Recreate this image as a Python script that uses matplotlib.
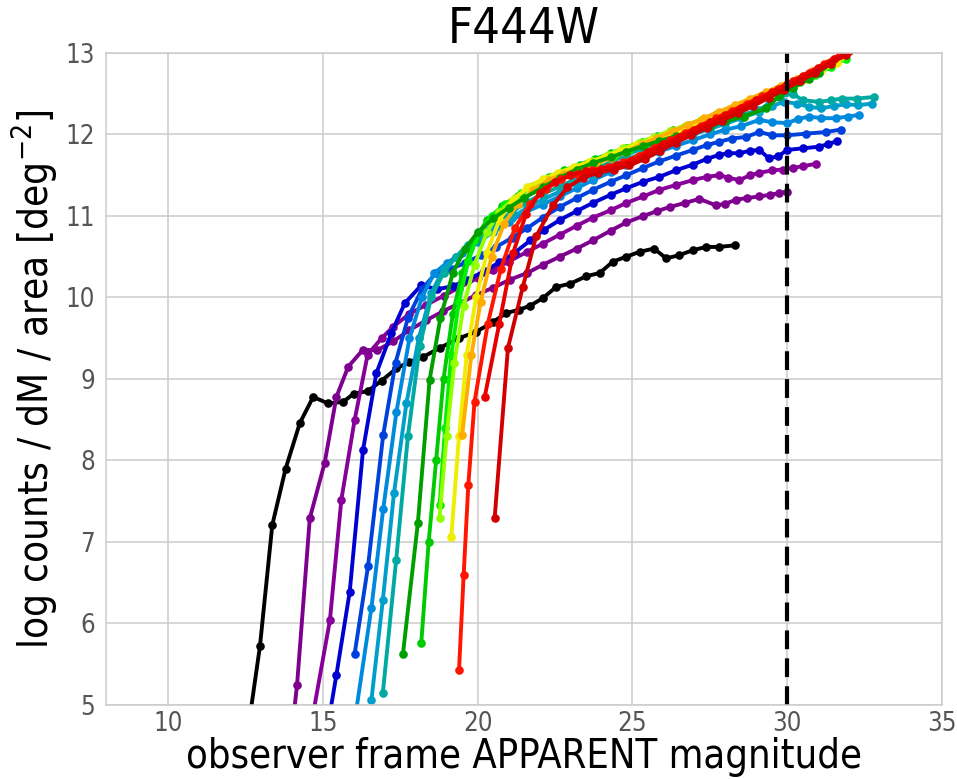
import matplotlib
matplotlib.use("Agg")
import matplotlib.pyplot as plt
from matplotlib import font_manager as fm

# ---------------- data ----------------
black_x = [12.55, 12.97, 13.37, 13.8, 14.26, 14.69, 15.17, 15.66, 16.0, 16.45, 16.9, 17.38, 17.8, 18.24, 18.77, 19.4, 19.96, 20.5, 20.93, 21.35, 21.7, 22.1, 22.54, 23.0, 23.5, 23.94, 24.37, 24.8, 25.23, 25.7, 26.09, 26.52, 26.95, 27.38, 27.8, 28.3]
black_y = [4.6, 5.72, 7.21, 7.9, 8.46, 8.78, 8.70, 8.72, 8.82, 8.85, 8.98, 9.13, 9.21, 9.27, 9.38, 9.5, 9.58, 9.70, 9.81, 9.85, 9.9, 9.99, 10.13, 10.17, 10.26, 10.30, 10.44, 10.5, 10.56, 10.6, 10.48, 10.52, 10.58, 10.62, 10.62, 10.64]

purpleA_x = [13.98, 14.17, 14.58, 15.06, 15.44, 15.82, 16.3, 16.74, 17.27, 17.8, 18.34, 18.88, 19.42, 19.95, 20.5, 21.05, 21.6, 22.1, 22.65, 23.2, 23.72, 24.3, 24.8, 25.35, 25.8, 26.2, 26.7, 27.16, 27.7, 28.0, 28.35, 28.7, 29.1, 29.45, 29.74, 30.0]
purpleA_y = [4.6, 5.25, 7.29, 7.97, 8.78, 9.15, 9.36, 9.35, 9.46, 9.6, 9.72, 9.83, 9.93, 10.03, 10.12, 10.22, 10.3, 10.4, 10.5, 10.6, 10.7, 10.82, 10.92, 11.0, 11.06, 11.11, 11.16, 11.21, 11.13, 11.15, 11.2, 11.22, 11.24, 11.26, 11.28, 11.3]

purpleB_x = [14.55, 15.23, 15.6, 16.03, 16.45, 16.9, 17.27, 17.8, 18.34, 18.9, 19.4, 20.0, 20.5, 21.0, 21.6, 22.1, 22.65, 23.2, 23.72, 24.3, 24.8, 25.35, 25.87, 26.4, 26.95, 27.4, 27.8, 28.1, 28.45, 28.8, 29.1, 29.52, 29.85, 30.17, 30.5, 30.92]
purpleB_y = [4.6, 6.04, 7.52, 8.5, 9.3, 9.5, 9.64, 9.8, 9.91, 10.02, 10.12, 10.24, 10.34, 10.44, 10.56, 10.66, 10.77, 10.88, 10.98, 11.07, 11.16, 11.24, 11.32, 11.38, 11.44, 11.48, 11.5, 11.47, 11.44, 11.5, 11.53, 11.56, 11.57, 11.59, 11.61, 11.64]

dblue_x = [15.1, 15.44, 15.87, 16.3, 16.73, 17.21, 17.65, 18.18, 18.7, 19.2, 19.7, 20.2, 20.7, 21.2, 21.7, 22.15, 22.65, 23.2, 23.72, 24.3, 24.8, 25.35, 25.87, 26.4, 26.95, 27.4, 27.8, 28.1, 28.45, 28.8, 29.1, 29.4, 29.7, 30.0, 30.5, 31.03, 31.3, 31.62]
dblue_y = [4.6, 5.37, 6.39, 8.13, 9.07, 9.56, 9.93, 10.15, 10.1, 10.14, 10.22, 10.32, 10.43, 10.55, 10.7, 10.83, 10.95, 11.06, 11.16, 11.26, 11.34, 11.42, 11.48, 11.56, 11.63, 11.7, 11.75, 11.77, 11.77, 11.8, 11.81, 11.71, 11.73, 11.81, 11.83, 11.85, 11.88, 11.92]

blue_x = [16.03, 16.46, 16.95, 17.35, 17.75, 18.2, 18.65, 19.1, 19.6, 20.1, 20.6, 21.1, 21.6, 22.1, 22.65, 23.2, 23.72, 24.3, 24.8, 25.35, 25.87, 26.4, 26.95, 27.4, 27.8, 28.2, 28.67, 29.1, 29.52, 30.0, 30.6, 31.25, 31.73]
blue_y = [5.63, 6.7, 8.31, 9.2, 9.75, 10.1, 10.3, 10.35, 10.42, 10.52, 10.62, 10.73, 10.85, 10.98, 11.11, 11.22, 11.32, 11.42, 11.5, 11.59, 11.67, 11.74, 11.81, 11.87, 11.91, 11.95, 11.97, 12.03, 11.99, 11.99, 12.01, 12.03, 12.06]

lblue_x = [15.95, 16.57, 16.95, 17.38, 17.8, 18.2, 18.6, 19.0, 19.5, 20.0, 20.5, 21.0, 21.5, 22.1, 22.65, 23.2, 23.72, 24.3, 24.8, 25.35, 25.87, 26.4, 26.95, 27.5, 28.0, 28.5, 29.1, 29.5, 30.0, 30.35, 30.7, 31.1, 31.57, 31.95, 32.32]
lblue_y = [4.6, 6.19, 7.4, 8.6, 9.5, 10.0, 10.3, 10.42, 10.55, 10.68, 10.8, 10.92, 11.04, 11.14, 11.24, 11.34, 11.44, 11.54, 11.63, 11.71, 11.79, 11.86, 11.93, 12.0, 12.06, 12.1, 12.18, 12.15, 12.14, 12.19, 12.22, 12.2, 12.2, 12.22, 12.24]

cyan_x = [16.57, 16.94, 17.3, 17.7, 18.1, 18.5, 18.9, 19.3, 19.7, 20.1, 20.6, 21.1, 21.6, 22.1, 22.65, 23.2, 23.72, 24.3, 24.8, 25.35, 25.87, 26.4, 26.95, 27.5, 28.0, 28.5, 29.1, 29.5, 29.9, 30.3, 30.7, 31.1, 31.5, 31.9, 32.3, 32.75]
cyan_y = [5.06, 6.29, 7.6, 8.7, 9.5, 10.05, 10.35, 10.5, 10.62, 10.74, 10.86, 10.98, 11.1, 11.2, 11.3, 11.41, 11.5, 11.6, 11.69, 11.77, 11.85, 11.93, 12.0, 12.07, 12.13, 12.2, 12.28, 12.35, 12.4, 12.38, 12.34, 12.32, 12.35, 12.37, 12.36, 12.38]

teal_x = [16.94, 17.37, 17.75, 18.13, 18.5, 18.9, 19.3, 19.7, 20.1, 20.6, 21.1, 21.6, 22.1, 22.65, 23.2, 23.72, 24.3, 24.8, 25.35, 25.87, 26.4, 26.95, 27.5, 28.0, 28.5, 29.1, 29.4, 29.74, 30.17, 30.5, 31.03, 31.4, 31.78, 32.25, 32.8]
teal_y = [5.15, 6.78, 8.3, 9.4, 10.0, 10.3, 10.5, 10.65, 10.78, 10.92, 11.05, 11.17, 11.27, 11.36, 11.46, 11.56, 11.66, 11.75, 11.83, 11.91, 11.99, 12.06, 12.12, 12.18, 12.24, 12.3, 12.38, 12.46, 12.5, 12.42, 12.4, 12.42, 12.44, 12.44, 12.46]

green_x = [17.59, 18.07, 18.45, 18.8, 19.2, 19.6, 20.0, 20.5, 21.0, 21.5, 22.1, 22.65, 23.2, 23.72, 24.3, 24.8, 25.35, 25.87, 26.4, 26.95, 27.5, 28.0, 28.6, 29.3, 29.74, 30.17, 30.7, 31.03, 31.4]
green_y = [5.63, 7.23, 8.99, 9.75, 10.3, 10.6, 10.8, 10.97, 11.1, 11.22, 11.35, 11.47, 11.57, 11.65, 11.72, 11.79, 11.86, 11.92, 11.98, 12.04, 12.1, 12.16, 12.22, 12.32, 12.47, 12.57, 12.68, 12.76, 12.87]

green2_x = [18.18, 18.42, 18.66, 18.9, 19.2, 19.5, 19.9, 20.3, 20.8, 21.3, 21.8, 22.3, 22.8, 23.3, 23.8, 24.3, 24.8, 25.3, 25.8, 26.3, 26.8, 27.3, 27.8, 28.3, 28.8, 29.3, 29.8, 30.3, 30.8, 31.3, 31.8]
green2_y = [5.76, 7.0, 8.0, 9.0, 9.8, 10.3, 10.7, 10.95, 11.12, 11.25, 11.37, 11.48, 11.56, 11.63, 11.7, 11.77, 11.84, 11.91, 11.98, 12.05, 12.12, 12.19, 12.26, 12.33, 12.41, 12.49, 12.57, 12.65, 12.74, 12.84, 12.95]

lgreen_x = [18.77, 18.95, 19.15, 19.4, 19.7, 20.05, 20.45, 20.9, 21.4, 21.9, 22.4, 22.9, 23.4, 23.9, 24.4, 24.9, 25.4, 25.9, 26.4, 26.9, 27.4, 27.9, 28.4, 28.9, 29.4, 29.9, 30.4, 30.9, 31.4, 31.9]
lgreen_y = [7.45, 8.4, 9.3, 9.95, 10.45, 10.8, 11.0, 11.15, 11.28, 11.38, 11.46, 11.53, 11.6, 11.67, 11.74, 11.81, 11.88, 11.95, 12.02, 12.09, 12.16, 12.23, 12.31, 12.39, 12.47, 12.55, 12.64, 12.73, 12.83, 12.93]

ygreen_x = [18.77, 19.0, 19.25, 19.55, 19.9, 20.3, 20.7, 21.2, 21.7, 22.2, 22.7, 23.2, 23.7, 24.2, 24.7, 25.2, 25.7, 26.2, 26.7, 27.2, 27.7, 28.2, 28.7, 29.2, 29.7, 30.2, 30.7, 31.2, 31.7]
ygreen_y = [7.3, 8.3, 9.2, 9.9, 10.4, 10.8, 11.05, 11.22, 11.35, 11.45, 11.53, 11.6, 11.67, 11.75, 11.83, 11.9, 11.97, 12.04, 12.11, 12.18, 12.25, 12.32, 12.4, 12.48, 12.56, 12.65, 12.74, 12.84, 12.94]

yellow_x = [19.15, 19.4, 19.65, 19.95, 20.3, 20.7, 21.15, 21.6, 22.1, 22.6, 23.1, 23.6, 24.1, 24.6, 25.1, 25.6, 26.1, 26.6, 27.1, 27.6, 28.1, 28.6, 29.1, 29.6, 30.1, 30.6, 31.1, 31.6]
yellow_y = [7.06, 8.3, 9.3, 10.0, 10.55, 10.95, 11.2, 11.35, 11.45, 11.53, 11.6, 11.66, 11.72, 11.8, 11.87, 11.93, 11.99, 12.06, 12.13, 12.2, 12.27, 12.35, 12.43, 12.51, 12.59, 12.68, 12.78, 12.88]

orange_x = [19.5, 19.8, 20.1, 20.45, 20.85, 21.3, 21.8, 22.3, 22.8, 23.3, 23.8, 24.3, 24.8, 25.3, 25.8, 26.3, 26.8, 27.3, 27.8, 28.3, 28.8, 29.3, 29.8, 30.3, 30.8, 31.3, 31.8]
orange_y = [8.31, 9.3, 9.95, 10.5, 10.9, 11.15, 11.32, 11.44, 11.52, 11.58, 11.64, 11.71, 11.79, 11.88, 11.96, 12.04, 12.12, 12.2, 12.28, 12.36, 12.44, 12.52, 12.6, 12.68, 12.78, 12.88, 12.98]

redorange_x = [19.4, 19.55, 19.7, 19.9, 20.33, 20.75, 21.2, 21.7, 22.2, 22.7, 23.2, 23.7, 24.2, 24.7, 25.2, 25.7, 26.2, 26.7, 27.2, 27.7, 28.2, 28.7, 29.2, 29.7, 30.2, 30.7, 31.2, 31.7]
redorange_y = [5.43, 6.6, 7.7, 8.72, 9.68, 10.35, 10.85, 11.15, 11.33, 11.45, 11.52, 11.56, 11.6, 11.66, 11.74, 11.84, 11.93, 12.02, 12.11, 12.2, 12.29, 12.38, 12.47, 12.56, 12.66, 12.76, 12.87, 12.98]

red_x = [20.23, 20.7, 21.14, 21.57, 22.0, 22.5, 23.0, 23.5, 24.0, 24.5, 25.0, 25.5, 26.0, 26.5, 27.0, 27.5, 28.0, 28.5, 29.0, 29.5, 30.0, 30.5, 31.0, 31.5, 32.0]
red_y = [8.78, 9.68, 10.54, 11.03, 11.28, 11.42, 11.5, 11.55, 11.58, 11.62, 11.68, 11.78, 11.88, 11.97, 12.06, 12.15, 12.24, 12.33, 12.42, 12.52, 12.62, 12.72, 12.82, 12.92, 13.02]

darkred_x = [20.55, 20.98, 21.46, 21.89, 22.43, 22.9, 23.4, 23.9, 24.4, 24.9, 25.4, 25.9, 26.4, 26.9, 27.4, 27.9, 28.4, 28.9, 29.4, 29.9, 30.4, 30.9, 31.4, 31.9]
darkred_y = [7.29, 9.38, 10.13, 10.75, 11.13, 11.35, 11.47, 11.53, 11.57, 11.62, 11.7, 11.8, 11.9, 11.99, 12.08, 12.17, 12.26, 12.35, 12.45, 12.55, 12.65, 12.76, 12.87, 12.98]

x_ticks = [10, 15, 20, 25, 30, 35]
y_ticks = [5, 6, 7, 8, 9, 10, 11, 12, 13]
mag_limit = 30

series = [
    (black_x, black_y), (purpleA_x, purpleA_y), (purpleB_x, purpleB_y),
    (dblue_x, dblue_y), (blue_x, blue_y), (lblue_x, lblue_y),
    (cyan_x, cyan_y), (teal_x, teal_y),
    (green2_x, green2_y), (lgreen_x, lgreen_y), (ygreen_x, ygreen_y),
    (yellow_x, yellow_y), (orange_x, orange_y), (green_x, green_y),
    (redorange_x, redorange_y), (red_x, red_y), (darkred_x, darkred_y),
]
# colour positions along nipy_spectral
cfrac = [0.0, 0.07, 0.1, 0.19, 0.23, 0.28, 0.32, 0.36, 0.52,
         0.58, 0.64, 0.70, 0.78, 0.46, 0.84, 0.885, 0.93]

# ---------------- font ----------------
stretch = 'normal'
if any('Condensed' in f.fname and 'DejaVuSans' in f.fname for f in fm.fontManager.ttflist):
    stretch = 'condensed'
plt.rcParams['font.family'] = ['DejaVu Sans']
plt.rcParams['font.stretch'] = stretch
plt.rcParams['mathtext.fontset'] = 'dejavusans'

fig = plt.figure(figsize=(9.57, 7.79), dpi=100)
ax = fig.add_axes([0.1108, 0.095, 0.8736, 0.837])
ax.set_facecolor('white')
cmap = plt.get_cmap('nipy_spectral')
for (xs, ys), f in zip(series, cfrac):
    ax.plot(xs, ys, '-o', color=cmap(f), lw=2.8, ms=6.2, mew=0)

ax.axvline(mag_limit, color='black', lw=3, ls=(0, (4.5, 2.2)))
ax.set_xlim(8, 35)
ax.set_ylim(5, 13)
ax.set_xticks(x_ticks)
ax.set_yticks(y_ticks)
ax.grid(True, color='#cccccc', lw=1.1)
ax.set_axisbelow(True)
for s in ax.spines.values():
    s.set_color('#cccccc')
    s.set_linewidth(1.1)
ax.tick_params(axis='y', length=0, labelsize=18.5, colors='#555555', pad=8)
ax.tick_params(axis='x', length=0, labelsize=18.5, colors='#555555', pad=4)
ax.set_title('F444W', fontsize=35, pad=7)
ax.set_xlabel('observer frame APPARENT magnitude', fontsize=28.5, labelpad=0)
ax.set_ylabel('log counts / dM / area [deg$^{-2}$]', fontsize=29, labelpad=4)
fig.savefig('out.png', dpi=100, facecolor='white')
